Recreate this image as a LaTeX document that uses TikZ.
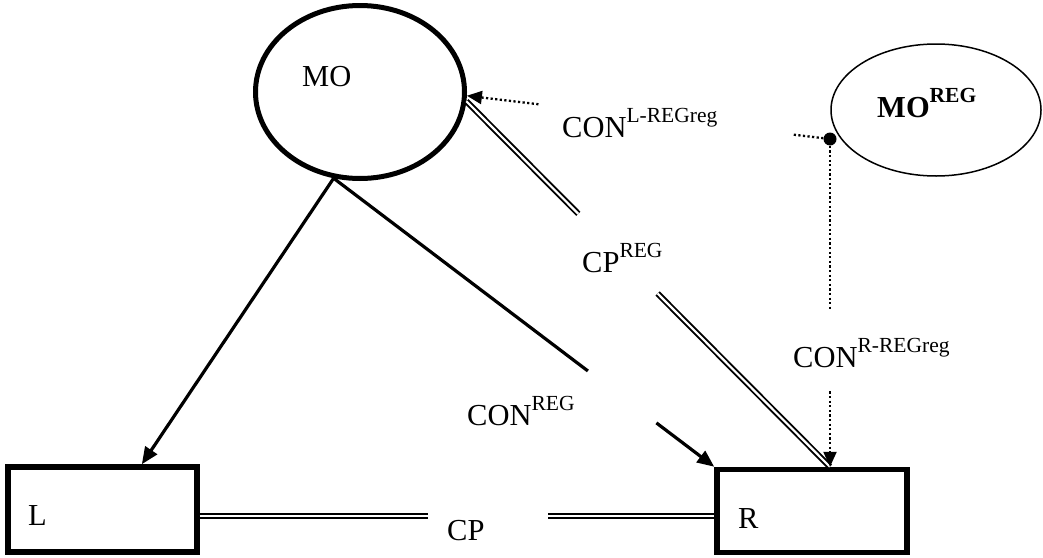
\documentclass[tikz,border=0pt]{standalone}
\usepackage{fontspec}
\setmainfont{Liberation Serif}
\usetikzlibrary{shapes.geometric,arrows.meta,calc}
\newcommand\supx[1]{\raisebox{14.5pt}{\fontsize{21.5}{21.5}\selectfont #1}}
\begin{document}
\begin{tikzpicture}[x=1pt,y=-1pt,
  lbl/.style={anchor=base west, inner sep=0pt, font=\fontsize{30.5}{30.5}\selectfont},
  blockbox/.style={draw, line width=5.5pt, inner sep=0pt, minimum width=190pt, minimum height=83pt},
  solidarrow/.style={line width=3.2pt, -{Triangle[length=17pt,width=14pt]}},
  plainline/.style={line width=3.2pt},
  dotline/.style={line width=2.3pt, dash pattern=on 2.2pt off 2.4pt},
  dotarrow/.style={dotline, -{Triangle[length=15pt,width=13pt]}},
  dbl/.style={double, double distance=2.2pt, line width=1.9pt},
]
\useasboundingbox (0,0) rectangle (1043,557);

% main nodes
\node[ellipse, draw, line width=5pt, inner sep=0pt,
      minimum width=209pt, minimum height=173pt] (MO) at (360,92) {};
\node[ellipse, draw, line width=1.5pt, inner sep=0pt,
      minimum width=210pt, minimum height=132pt] (MOREG) at (936,110) {};
\node[blockbox, minimum width=189pt, minimum height=85pt] (L) at (102.5,509.5) {};
\node[blockbox] (R) at (812,511) {};
\node[circle, fill, inner sep=0pt, minimum size=13pt] (DOT) at (830,139) {};

% texts
\node[lbl] (MOtxt) at (302,86) {MO};
\node[lbl] (MOREGtxt) at (877,117) {\bfseries MO\supx{REG}};
\node[lbl] (Ltxt) at (28,525) {L};
\node[lbl] (Rtxt) at (738,528) {R};
\node[lbl] (CPtxt) at (447,540) {CP};
\node[lbl] (CONREGtxt) at (467,425) {CON\supx{REG}};
\node[lbl] (CPREGtxt) at (582,272) {CP\supx{REG}};
\node[lbl] (CONLtxt) at (562,137) {CON\supx{L-REGreg}};
\node[lbl] (CONRtxt) at (793,367) {CON\supx{R-REGreg}};

% MO -> L
\draw[solidarrow] (MO.-107) -- (L.49);

% MO -> R, interrupted by its label
\coordinate (mrA) at ($(MO.-107)!0.668!(R.north west)$);
\coordinate (mrB) at ($(MO.-107)!0.848!(R.north west)$);
\draw[plainline] (MO.-107) -- (mrA);
\draw[solidarrow] (mrB) -- (R.north west);

% CP between L and R
\coordinate (cpS) at ([yshift=-6.5pt]L.east);
\coordinate (cpE) at (cpS -| R.west);
\coordinate (cpA) at ($(cpS)!0.444!(cpE)$);
\coordinate (cpB) at ($(cpS)!0.677!(cpE)$);
\draw[dbl] (cpS) -- (cpA);
\draw[dbl] (cpB) -- (cpE);

% CP^REG between MO and R
\coordinate (crA) at ($(MO.-5)!0.308!(R.68)$);
\coordinate (crB) at ($(MO.-5)!0.526!(R.68)$);
\draw[dbl] (MO.-5) -- (crA);
\draw[dbl] (crB) -- (R.68);

% CON^{L-REGreg}: from the regulator point to MO
\coordinate (clA) at ($(DOT.center)!0.103!(MO.-2)$);
\coordinate (clB) at ($(DOT.center)!0.803!(MO.-2)$);
\draw[dotline] (DOT) -- (clA);
\draw[dotarrow] (clB) -- (MO.-2);

% CON^{R-REGreg}: from the regulator point down to R
\coordinate (rEnd) at (DOT |- R.north);
\coordinate (rrA) at ($(DOT.center)!0.518!(rEnd)$);
\coordinate (rrB) at ($(DOT.center)!0.77!(rEnd)$);
\draw[dotline] (DOT) -- (rrA);
\draw[dotarrow] (rrB) -- (rEnd);
\end{tikzpicture}
\end{document}
